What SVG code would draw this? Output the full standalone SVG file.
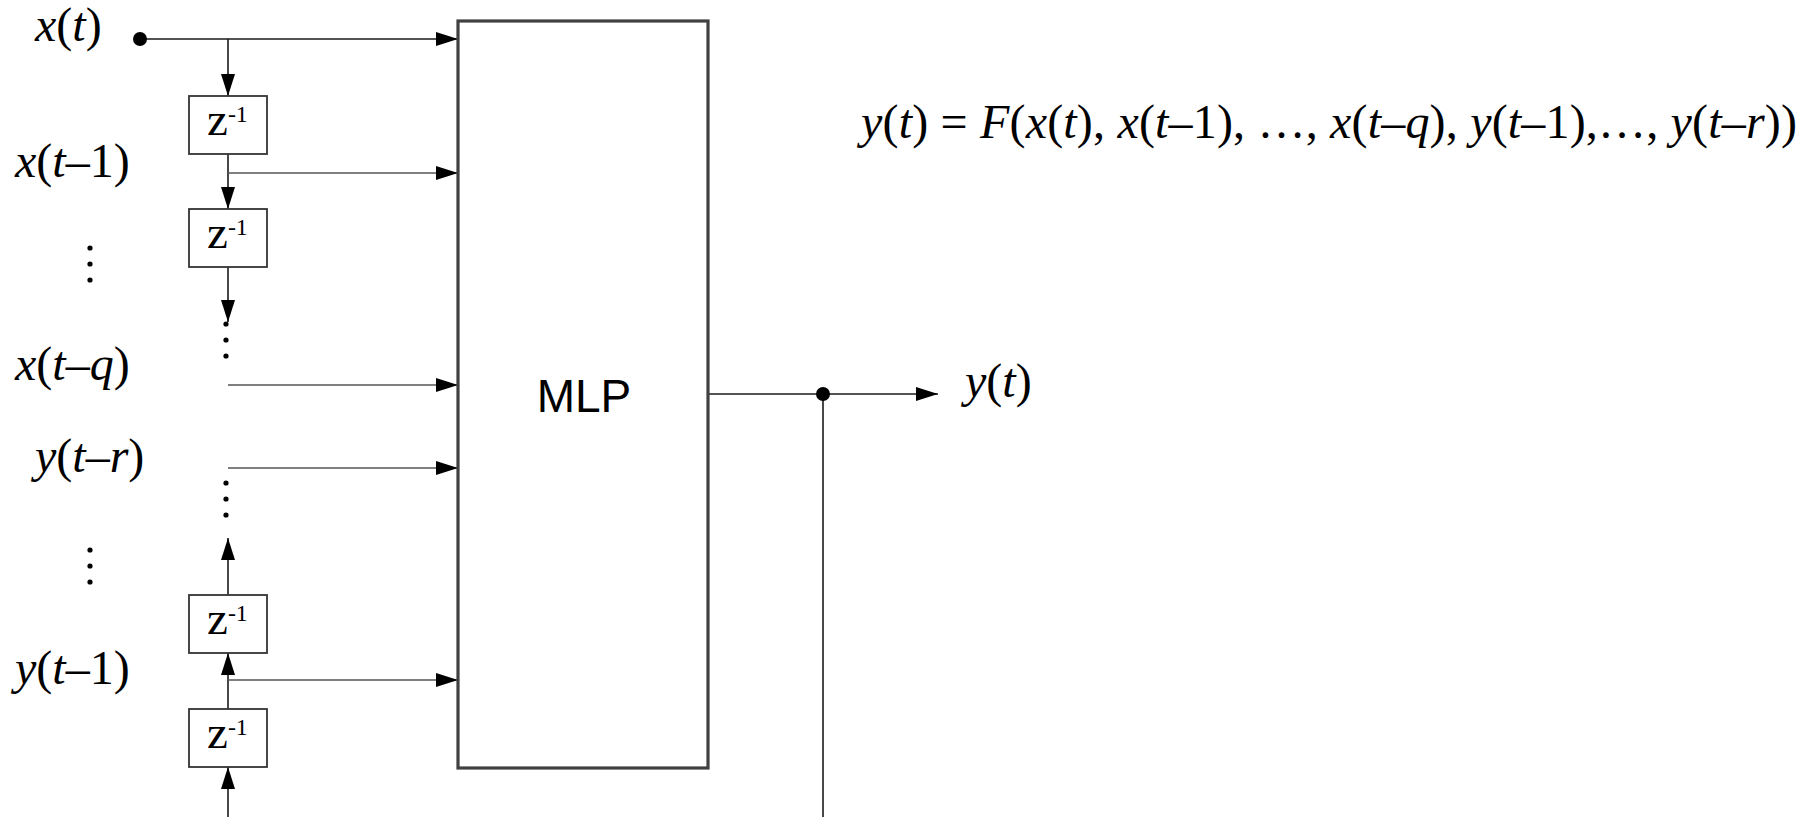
<svg xmlns="http://www.w3.org/2000/svg" width="1819" height="817" viewBox="0 0 1819 817">
<style>
.lbl{font-family:"Liberation Serif","Times New Roman",serif;font-size:48px;fill:#000}
.i{font-style:italic}
.z{font-family:"Liberation Serif","Times New Roman",serif;font-size:47px;fill:#000}
.sup{font-size:24px}
.box{fill:#fff;stroke:#333;stroke-width:1.8}
.mlp{fill:#fff;stroke:#404040;stroke-width:3.2}
.w{stroke:#1a1a1a;stroke-width:1.6;fill:none}
.b{stroke:#555;stroke-width:1.4;fill:none}
.arr{marker-end:url(#ah)}
.dot{fill:#000}
</style>
<defs>
<marker id="ah" markerUnits="userSpaceOnUse" markerWidth="22" markerHeight="14" refX="22" refY="7" orient="auto">
<path d="M0,0 L22,7 L0,14 z" fill="#000"/>
</marker>
</defs>
<rect width="1819" height="817" fill="#fff"/>

<g id="connectors">
<line class="w arr" x1="140" y1="39" x2="458" y2="39"/>
<line class="w arr" x1="228" y1="39" x2="228" y2="96"/>
<line class="w arr" x1="228" y1="154" x2="228" y2="209"/>
<line class="b arr" x1="228" y1="173" x2="458" y2="173"/>
<line class="w arr" x1="228" y1="267" x2="228" y2="322"/>
<line class="b arr" x1="228" y1="385" x2="458" y2="385"/>
<line class="b arr" x1="228" y1="468" x2="458" y2="468"/>
<line class="w arr" x1="228" y1="595" x2="228" y2="538"/>
<line class="w arr" x1="228" y1="709" x2="228" y2="653"/>
<line class="b arr" x1="228" y1="680" x2="458" y2="680"/>
<line class="w arr" x1="228" y1="817" x2="228" y2="767"/>
<line class="w arr" x1="708" y1="394" x2="938" y2="394"/>
<line class="w" x1="823" y1="394" x2="823" y2="817"/>
<circle class="dot" cx="140" cy="39" r="7"/>
<circle class="dot" cx="823" cy="394" r="7"/>
</g>

<g id="dots">
<circle class="dot" cx="90" cy="248" r="2.6"/>
<circle class="dot" cx="90" cy="264" r="2.6"/>
<circle class="dot" cx="90" cy="280" r="2.6"/>
<circle class="dot" cx="226" cy="324" r="2.6"/>
<circle class="dot" cx="226" cy="340" r="2.6"/>
<circle class="dot" cx="226" cy="356" r="2.6"/>
<circle class="dot" cx="226" cy="483" r="2.6"/>
<circle class="dot" cx="226" cy="499" r="2.6"/>
<circle class="dot" cx="226" cy="515" r="2.6"/>
<circle class="dot" cx="90" cy="550" r="2.6"/>
<circle class="dot" cx="90" cy="566" r="2.6"/>
<circle class="dot" cx="90" cy="582" r="2.6"/>
</g>

<g id="mlp">
<rect class="mlp" x="458" y="21" width="250" height="747"/>
<text x="584" y="412" text-anchor="middle" font-family="'Liberation Sans',Arial,sans-serif" font-size="46" fill="#000">MLP</text>
</g>

<g id="delay1">
<rect class="box" x="189" y="96" width="78" height="58"/>
<text class="z" x="207" y="135">z<tspan class="sup" dy="-13">-1</tspan></text>
</g>
<g id="delay2">
<rect class="box" x="189" y="209" width="78" height="58"/>
<text class="z" x="207" y="248">z<tspan class="sup" dy="-13">-1</tspan></text>
</g>
<g id="delay3">
<rect class="box" x="189" y="595" width="78" height="58"/>
<text class="z" x="207" y="634">z<tspan class="sup" dy="-13">-1</tspan></text>
</g>
<g id="delay4">
<rect class="box" x="189" y="709" width="78" height="58"/>
<text class="z" x="207" y="748">z<tspan class="sup" dy="-13">-1</tspan></text>
</g>

<g id="labels">
<text class="lbl" x="35" y="41"><tspan class="i">x</tspan>(<tspan class="i">t</tspan>)</text>
<text class="lbl" x="15" y="177"><tspan class="i">x</tspan>(<tspan class="i">t</tspan>–1)</text>
<text class="lbl" x="15" y="380"><tspan class="i">x</tspan>(<tspan class="i">t</tspan>–<tspan class="i">q</tspan>)</text>
<text class="lbl" x="35" y="472"><tspan class="i">y</tspan>(<tspan class="i">t</tspan>–<tspan class="i">r</tspan>)</text>
<text class="lbl" x="15" y="684"><tspan class="i">y</tspan>(<tspan class="i">t</tspan>–1)</text>
<text class="lbl" x="965" y="397"><tspan class="i">y</tspan>(<tspan class="i">t</tspan>)</text>
</g>

<g id="formula">
<text class="lbl" x="861" y="138" textLength="936" lengthAdjust="spacing"><tspan class="i">y</tspan>(<tspan class="i">t</tspan>) = <tspan class="i">F</tspan>(<tspan class="i">x</tspan>(<tspan class="i">t</tspan>), <tspan class="i">x</tspan>(<tspan class="i">t</tspan>–1), …, <tspan class="i">x</tspan>(<tspan class="i">t</tspan>–<tspan class="i">q</tspan>), <tspan class="i">y</tspan>(<tspan class="i">t</tspan>–1),…, <tspan class="i">y</tspan>(<tspan class="i">t</tspan>–<tspan class="i">r</tspan>))</text>
</g>
</svg>
